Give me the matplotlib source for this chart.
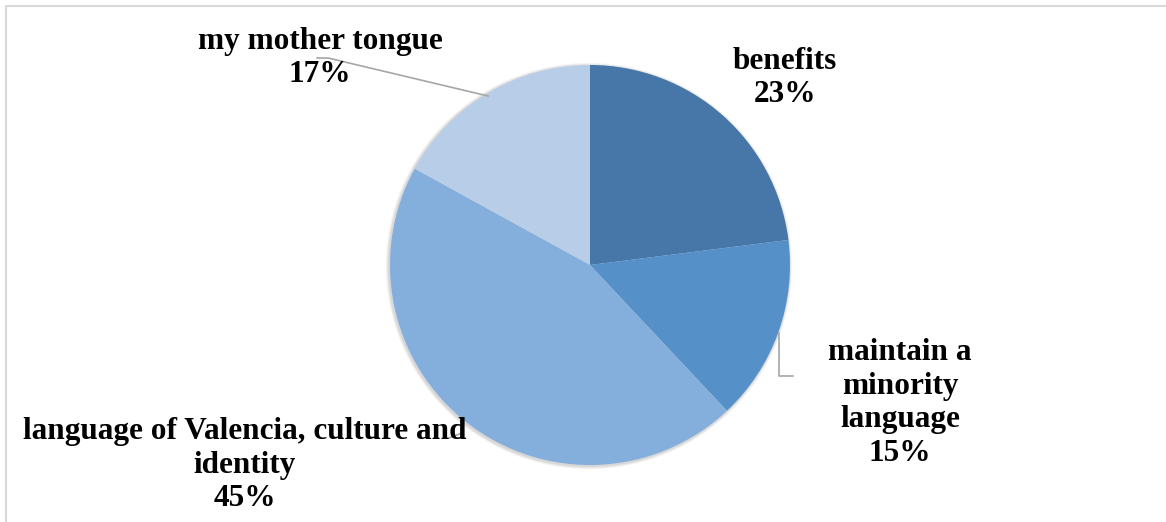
import matplotlib.pyplot as plt
from matplotlib.patches import Circle

# reasons for learning Valencian
labels = ['benefits', 'maintain a\nminority\nlanguage',
          'language of Valencia, culture and\nidentity', 'my mother tongue']
shares = [23, 15, 45, 17]
colors = ['#4677A8', '#5590C8', '#84AEDC', '#B8CDE7']

W, H = 1166, 522
fig = plt.figure(figsize=(W / 100, H / 100), dpi=100)
ax = fig.add_axes([0, 0, 1, 1])

cx, cy, r = 590, H - 265, 200

# soft shadow behind the pie
for k, a in enumerate([0.05, 0.05, 0.06]):
    ax.add_patch(Circle((cx - 1, cy - 1), r + 3 - k, color='black', alpha=a,
                        lw=0, zorder=1))

ax.pie(shares, colors=colors, startangle=90, counterclock=False,
       center=(cx, cy), radius=r, frame=True,
       wedgeprops=dict(linewidth=0, zorder=2))
ax.set_xlim(0, W)
ax.set_ylim(0, H)
ax.set_aspect('equal')
ax.axis('off')

# data labels
font = dict(family='Liberation Serif', weight='bold', fontsize=22.5,
            ha='center', va='center', linespacing=1.22, color='black')
label_pos = [(785, 78), (900, 403), (245, 465), (320, 58)]
for lab, v, (px, py) in zip(labels, shares, label_pos):
    ax.text(px, H - py, f'{lab}\n{v}%', zorder=5, **font)

# leader lines
lc = dict(color='#A6A6A6', lw=1.2, zorder=4)
ax.plot([317, 328, 488], [H - 58, H - 58, H - 96], **lc)
ax.plot([779, 779, 793], [H - 333, H - 376, H - 376], **lc)
ax.plot([449, 462], [H - 438, H - 433], **lc)

# chart area border
ax.plot([6, 6, W + 5], [-5, H - 6, H - 6], color='#D9D9D9', lw=1.5, zorder=0)

fig.savefig('out.png', dpi=100)
